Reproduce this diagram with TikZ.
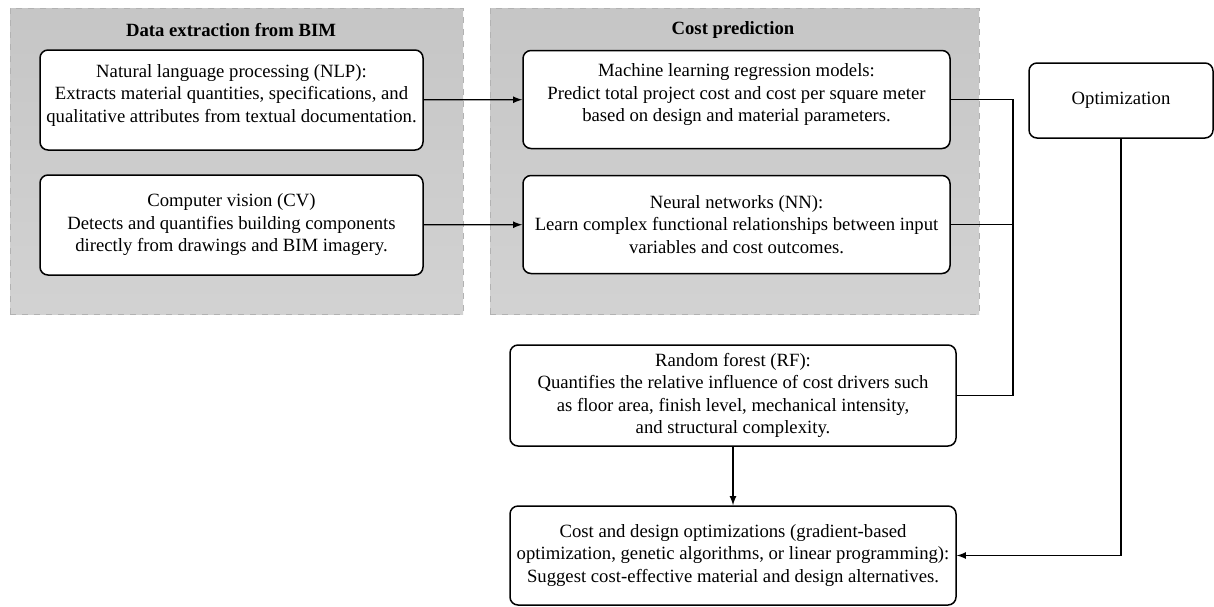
\documentclass[tikz,border=0pt]{standalone}
\usepackage{fontspec}
\setmainfont{Liberation Serif}
\usepackage{tikz}
\usetikzlibrary{calc, fit, arrows}
\pgfdeclarelayer{background}
\pgfsetlayers{background,main}
\tikzstyle{method}  = [rectangle, rounded corners=4pt, draw=black, line width=0.75pt, fill=white, align=center, inner sep=0pt, font=\fontsize{9.35}{11.25}\selectfont]
\tikzstyle{panel}   = [rectangle, draw=gray!60, dashed, line width=0.4pt, top color=gray!45, bottom color=gray!35, inner sep=0pt]
\tikzstyle{heading} = [font=\fontsize{9.35}{11.25}\selectfont\bfseries]
\tikzstyle{arrow}   = [line width=0.6pt, ->, >=latex]
\tikzstyle{wire}    = [line width=0.6pt]

\begin{document}
\begin{tikzpicture}[x=0.5pt, y=-0.5pt, node distance=62.5pt]
    \useasboundingbox (0,0) rectangle (1214,606);

    % data extraction
    \node (nlp) [method, minimum width=191.5pt, minimum height=50pt] at (231.5,100)
      {Natural language processing (NLP):\\Extracts material quantities, specifications, and\\qualitative attributes from textual documentation.\\[-4.5pt]};
    \node (cv)  [method, minimum width=191.5pt, minimum height=50pt, below of=nlp]
      {Computer vision (CV)\\Detects and quantifies building components\\directly from drawings and BIM imagery.};

    % cost prediction
    \node (ml)  [method, minimum width=213.5pt, minimum height=49pt] at (736.5,99.5)
      {Machine learning regression models:\\Predict total project cost and cost per square meter\\based on design and material parameters.\\[-4.5pt]};
    \node (nn)  [method, minimum width=213.5pt, minimum height=49pt, below of=ml]
      {Neural networks (NN):\\Learn complex functional relationships between input\\variables and cost outcomes.};

    \node (opt) [method, minimum width=92pt, minimum height=37.5pt] at (1121,100.5) {Optimization};

    \node (rf)   [method, minimum width=223pt, minimum height=50.5pt] at (733,395.5)
      {Random forest (RF):\\Quantifies the relative influence of cost drivers such\\as floor area, finish level, mechanical intensity,\\and structural complexity.};
    \node (cost) [method, minimum width=223pt, minimum height=49.5pt, below of=rf, node distance=80pt]
      {Cost and design optimizations (gradient-based\\optimization, genetic algorithms, or linear programming):\\Suggest cost-effective material and design alternatives.};

    \coordinate (bus) at (1013,0);

    \draw [arrow] (nlp) -- (ml);
    \draw [arrow] (cv)  -- (nn);
    \draw [wire]  (ml.east) -- (ml.east -| bus) -- (rf.east -| bus) -- (rf.east);
    \draw [wire]  (nn.east) -- (nn.east -| bus);
    \draw [arrow] (rf) -- (cost);
    \draw [arrow] (opt.south) |- (cost.east);

    \begin{pgfonlayer}{background}
      \node (extract) [panel, fit={(10,8) (463,314)}] {};
      \node (predict) [panel, fit={(490,8) (979,314)}] {};
    \end{pgfonlayer}
    \node [heading] at (231,30) {Data extraction from BIM};
    \node [heading] at (733,30) {Cost prediction};

  \end{tikzpicture}
\end{document}
